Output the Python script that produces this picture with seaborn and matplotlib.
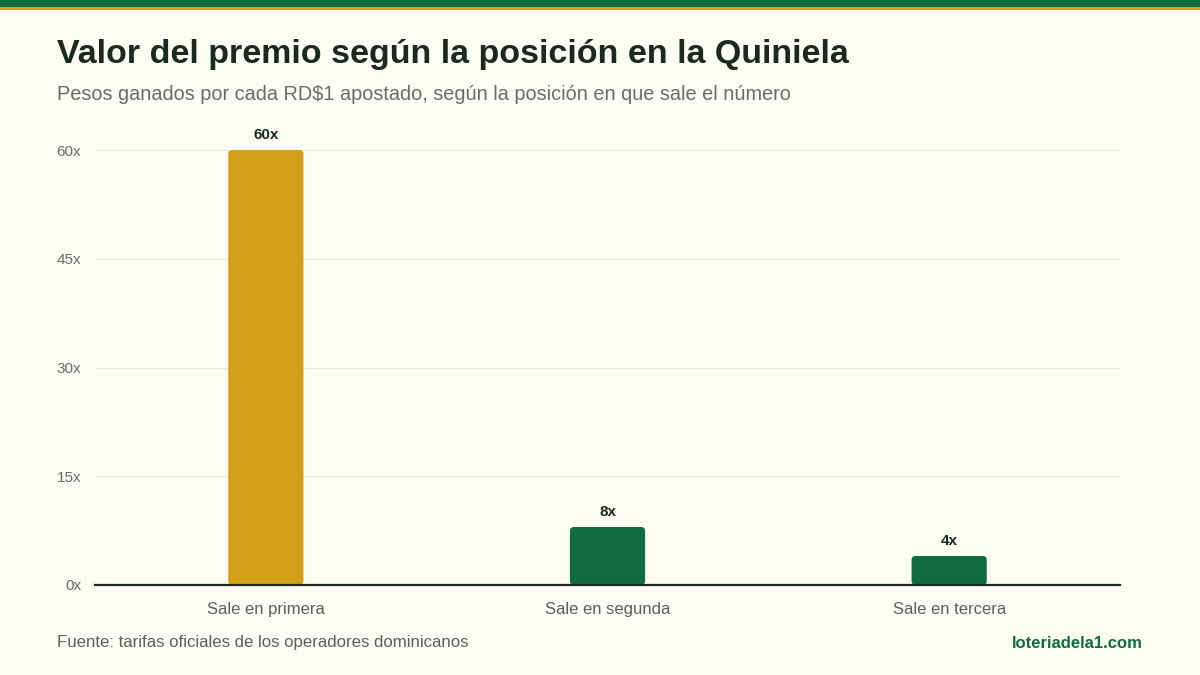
import matplotlib
matplotlib.use("Agg")
import matplotlib.pyplot as plt
import seaborn as sns
import pandas as pd
from matplotlib.patches import FancyBboxPatch, Rectangle

categories = ["Sale en primera", "Sale en segunda", "Sale en tercera"]
values = [60, 8, 4]
value_labels = ["60x", "8x", "4x"]
y_ticks = [0, 15, 30, 45, 60]
y_tick_labels = ["0x", "15x", "30x", "45x", "60x"]
bar_colors = ["#D4A017", "#0F6B40", "#0F6B40"]

BG = "#FCFCF4"
sns.set_theme(style="white")
plt.rcParams["font.family"] = ["Liberation Sans", "DejaVu Sans"]

df = pd.DataFrame({"cat": categories, "val": values})

fig = plt.figure(figsize=(12, 6.75), dpi=100, facecolor=BG)
W, H = 1200, 675
ax_left, ax_right, ax_bottom, ax_top = 95, 1120, 585, 120
ax = fig.add_axes([ax_left / W, 1 - ax_bottom / H, (ax_right - ax_left) / W, (ax_bottom - ax_top) / H])
ax.set_facecolor(BG)

sns.barplot(data=df, x="cat", y="val", hue="cat", palette=bar_colors, width=0.22,
            legend=False, ax=ax, saturation=1)

ymax = 60 * (ax_bottom - ax_top) / (585 - 150)
ax.set_ylim(0, ymax)
ax.set_xlim(-0.5, 2.5)

# replace bars with rounded ones
px_per_x = (ax_right - ax_left) / 3.0
px_per_y = (585 - 150) / 60.0
r_px = 4
rx = r_px / px_per_x
for p, lbl in zip(list(ax.patches), value_labels):
    x0, y0 = p.get_x(), p.get_y()
    w, h = p.get_width(), p.get_height()
    col = p.get_facecolor()
    p.remove()
    fb = FancyBboxPatch((x0, y0), w, h,
                        boxstyle=f"round,pad=0,rounding_size={rx}",
                        mutation_aspect=(px_per_x / px_per_y),
                        facecolor=col, edgecolor="none", zorder=3)
    ax.add_patch(fb)
    ax.annotate(lbl, (x0 + w / 2, y0 + h), xytext=(0, 6), textcoords="offset points",
                ha="center", va="bottom", fontsize=11, fontweight="bold", color="#1A2A1E")

ax.set_yticks(y_ticks)
ax.set_yticklabels(y_tick_labels)
ax.yaxis.grid(True, color="#EAEAE2", linewidth=1)
ax.set_axisbelow(True)
for s in ["top", "right", "left"]:
    ax.spines[s].set_visible(False)
ax.spines["bottom"].set_color("#1A2A1E")
ax.spines["bottom"].set_linewidth(1.6)
ax.spines["bottom"].set_zorder(5)
ax.tick_params(axis="y", length=0, pad=10, labelsize=11, labelcolor="#6B6B6B")
ax.tick_params(axis="x", length=0, pad=12, labelsize=12, labelcolor="#5E5E5E")
ax.set_xlabel("")
ax.set_ylabel("")

# top bands
fig.patches.append(Rectangle((0, 1 - 7 / H), 1, 7 / H, transform=fig.transFigure,
                             facecolor="#0F6B40", edgecolor="none"))
fig.patches.append(Rectangle((0, 1 - 10 / H), 1, 3 / H, transform=fig.transFigure,
                             facecolor="#D4A52A", edgecolor="none"))

fig.text(57 / W, 1 - 55 / H, "Valor del premio según la posición en la Quiniela",
         fontsize=24.5, fontweight="bold", color="#1A2A1E", va="center", ha="left")
fig.text(57 / W, 1 - 94 / H, "Pesos ganados por cada RD$1 apostado, según la posición en que sale el número",
         fontsize=14.3, color="#6B6B6B", va="center", ha="left")
fig.text(57 / W, 1 - 643 / H, "Fuente: tarifas oficiales de los operadores dominicanos",
         fontsize=12.1, color="#5E5E5E", va="center", ha="left")
fig.text(1143 / W, 1 - 643 / H, "loteriadela1.com",
         fontsize=12, fontweight="bold", color="#0F6B40", va="center", ha="right")

fig.savefig("out.png", dpi=100, facecolor=BG)
